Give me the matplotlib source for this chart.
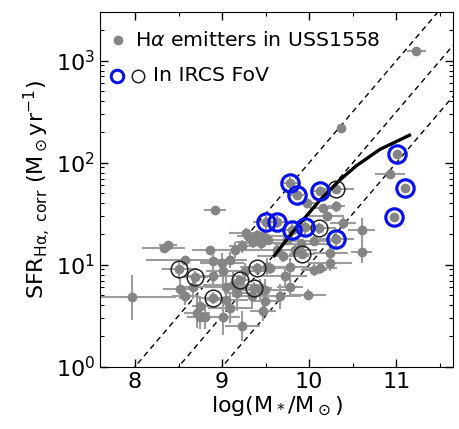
import matplotlib
matplotlib.use('Agg')
import matplotlib.pyplot as plt
import numpy as np

# H-alpha emitters (not in IRCS FoV): log stellar mass, SFR, x error, y error (dex)
gray_logm = [11.23, 10.36, 10.93, 10.60, 10.60, 9.99, 8.33, 8.38, 8.86, 8.92,
             8.58, 8.90, 8.52, 8.58, 8.67, 8.75, 8.75, 9.01, 9.05, 9.15,
             9.23, 9.36, 9.40, 9.45, 9.30, 9.53, 9.00, 9.09, 8.90, 9.01,
             9.13, 9.26, 9.17, 9.34, 9.49, 9.49, 9.05, 8.71, 8.80, 9.23,
             9.09, 9.47, 9.72, 9.78, 9.70, 9.84, 9.63, 9.74, 9.44, 9.66,
             9.78, 9.51, 9.55, 9.97, 10.16, 10.31, 10.20, 10.39, 10.24, 10.24,
             10.12, 10.05, 9.28, 9.47, 9.90, 10.05, 7.97]
gray_sfr = [1250, 219, 77.5, 22.0, 13.2, 5.1, 14.6, 15.7, 14.0, 34.6,
            11.2, 10.8, 5.8, 4.9, 6.1, 3.9, 3.1, 3.1, 6.1, 14.0,
            15.1, 16.9, 19.7, 16.3, 19.0, 17.6, 10.4, 11.2, 7.7, 8.6,
            6.4, 8.6, 5.3, 4.9, 5.7, 4.4, 4.5, 3.4, 3.1, 2.5,
            3.8, 3.5, 7.7, 9.6, 12.1, 14.0, 14.0, 17.6, 5.7, 4.9,
            6.1, 9.6, 9.3, 40.3, 36.0, 37.3, 29.8, 25.6, 13.0, 10.4,
            9.3, 8.9, 20.4, 19.0, 16.0, 17.0, 4.8]
gray_xerr = [0.11, 0.03, 0.17, 0.15, 0.12, 0.20, 0.25, 0.10, 0.20, 0.13,
             0.45, 0.15, 0.20, 0.15, 0.12, 0.10, 0.15, 0.20, 0.25, 0.30,
             0.15, 0.20, 0.15, 0.25, 0.10, 0.20, 0.25, 0.20, 0.30, 0.20,
             0.35, 0.25, 0.15, 0.20, 0.30, 0.15, 0.25, 0.15, 0.20, 0.20,
             0.25, 0.15, 0.25, 0.20, 0.30, 0.25, 0.35, 0.20, 0.20, 0.25,
             0.15, 0.30, 0.20, 0.10, 0.15, 0.10, 0.20, 0.15, 0.20, 0.25,
             0.20, 0.15, 0.20, 0.30, 0.30, 0.25, 0.50]
gray_yerr = [0.02, 0.03, 0.03, 0.12, 0.10, 0.05, 0.03, 0.03, 0.04, 0.03,
             0.04, 0.06, 0.10, 0.08, 0.12, 0.10, 0.12, 0.18, 0.10, 0.08,
             0.06, 0.06, 0.05, 0.06, 0.05, 0.05, 0.10, 0.08, 0.10, 0.12,
             0.12, 0.08, 0.18, 0.12, 0.10, 0.15, 0.10, 0.15, 0.12, 0.15,
             0.15, 0.10, 0.10, 0.08, 0.06, 0.05, 0.05, 0.05, 0.10, 0.12,
             0.10, 0.08, 0.06, 0.04, 0.04, 0.05, 0.05, 0.06, 0.08, 0.08,
             0.06, 0.06, 0.05, 0.06, 0.05, 0.05, 0.22]

# emitters inside the IRCS field of view (blue = detected, black = other)
blue_logm = [9.78, 9.86, 10.12, 9.50, 9.63, 9.80, 9.95, 10.31, 11.01, 11.10, 10.97]
blue_sfr = [63.7, 48.5, 52.6, 26.0, 26.4, 22.0, 23.3, 17.9, 121, 56.9, 29.2]
black_logm = [8.51, 8.69, 8.90, 9.21, 9.40, 9.37, 9.92, 10.11, 10.31]
black_sfr = [9.1, 7.6, 4.7, 7.1, 9.2, 5.9, 12.8, 22.7, 55.2]
circ_xerr = [0.10, 0.08, 0.10, 0.15, 0.12, 0.10, 0.15, 0.20, 0.20, 0.15, 0.20,
             0.10, 0.15, 0.20, 0.15, 0.20, 0.20]
circ_yerr = [0.06, 0.05, 0.05, 0.06, 0.06, 0.08, 0.10, 0.08, 0.10, 0.06, 0.06,
             0.04, 0.05, 0.06, 0.04, 0.05, 0.05]

# main sequence curve
ms_logm = [9.60, 9.81, 10.12, 10.35, 10.54, 10.81, 11.15]
ms_sfr = [12.3, 20.9, 42.7, 67.6, 93.3, 135, 186]

# constant specific SFR lines (log sSFR, yr^-1)
ssfr_levels = [-8.0, -8.5, -9.0]

grey = '#858585'
err_grey = '#9c9c9c'

fig = plt.figure(figsize=(4.59, 4.29), dpi=100)
ax = fig.add_axes([0.218, 0.145, 0.769, 0.827])

# combine all points for the gray markers + error bars
all_logm = np.array(gray_logm + blue_logm[:8] + black_logm)
all_sfr = np.array(gray_sfr + blue_sfr[:8] + black_sfr)
all_xerr = np.array(gray_xerr + circ_xerr)
all_yerr = np.array(gray_yerr + circ_yerr)
lo = all_sfr - all_sfr * 10 ** (-all_yerr)
hi = all_sfr * 10 ** all_yerr - all_sfr
ax.errorbar(all_logm, all_sfr, xerr=all_xerr, yerr=[lo, hi], fmt='o',
            color=grey, ecolor=err_grey, ms=6, elinewidth=1.5, capsize=0, zorder=2)
# massive blue ones have no visible error bars
ax.plot(blue_logm[8:], blue_sfr[8:], 'o', color=grey, ms=6, zorder=2)

# constant sSFR dashed lines
xline = np.array([7.0, 12.0])
for s in ssfr_levels:
    ax.plot(xline, 10 ** (xline + s), '--', color='black', lw=1.0,
            dashes=(4, 3), zorder=1)

# main sequence curve
ax.plot(ms_logm, ms_sfr, '-', color='black', lw=2.4, zorder=3)

# circles for IRCS FoV
ax.plot(black_logm, black_sfr, 'o', mfc='none', mec='#222222', ms=12, mew=1.1, zorder=4)
ax.plot(blue_logm, blue_sfr, 'o', mfc='none', mec='#0a14e6', ms=12.5, mew=2.3, zorder=5)

# hand made legend
ax.plot([0.051], [0.921], 'o', color=grey, ms=6, transform=ax.transAxes)
ax.text(0.099, 0.921, r'H$\alpha$ emitters in USS1558', fontsize=14.7,
        va='center', ha='left', transform=ax.transAxes)
ax.plot([0.048], [0.820], 'o', mfc='none', mec='#0a14e6', ms=9, mew=2.2,
        transform=ax.transAxes)
ax.plot([0.108], [0.820], 'o', mfc='none', mec='#222222', ms=9, mew=1.1,
        transform=ax.transAxes)
ax.text(0.150, 0.820, 'In IRCS FoV', fontsize=14.7, va='center', ha='left',
        transform=ax.transAxes)

ax.set_yscale('log')
ax.set_xlim(7.6, 11.65)
ax.set_ylim(1, 3000)
ax.set_xticks([8, 9, 10, 11])
ax.set_xticks([8.5, 9.5, 10.5, 11.5], minor=True)
ax.tick_params(which='both', direction='in', top=True, right=True, labelsize=16)
ax.tick_params(which='major', length=6, width=1)
ax.tick_params(which='minor', length=3, width=0.8)

ax.set_xlabel(r'log(M$_*$/M$_\odot$)', fontsize=16, labelpad=2)
ax.set_ylabel(r'SFR$_{\rm H\alpha,\ corr}$ (M$_\odot$yr$^{-1}$)', fontsize=16, labelpad=2)

fig.savefig('out.png', dpi=100)
